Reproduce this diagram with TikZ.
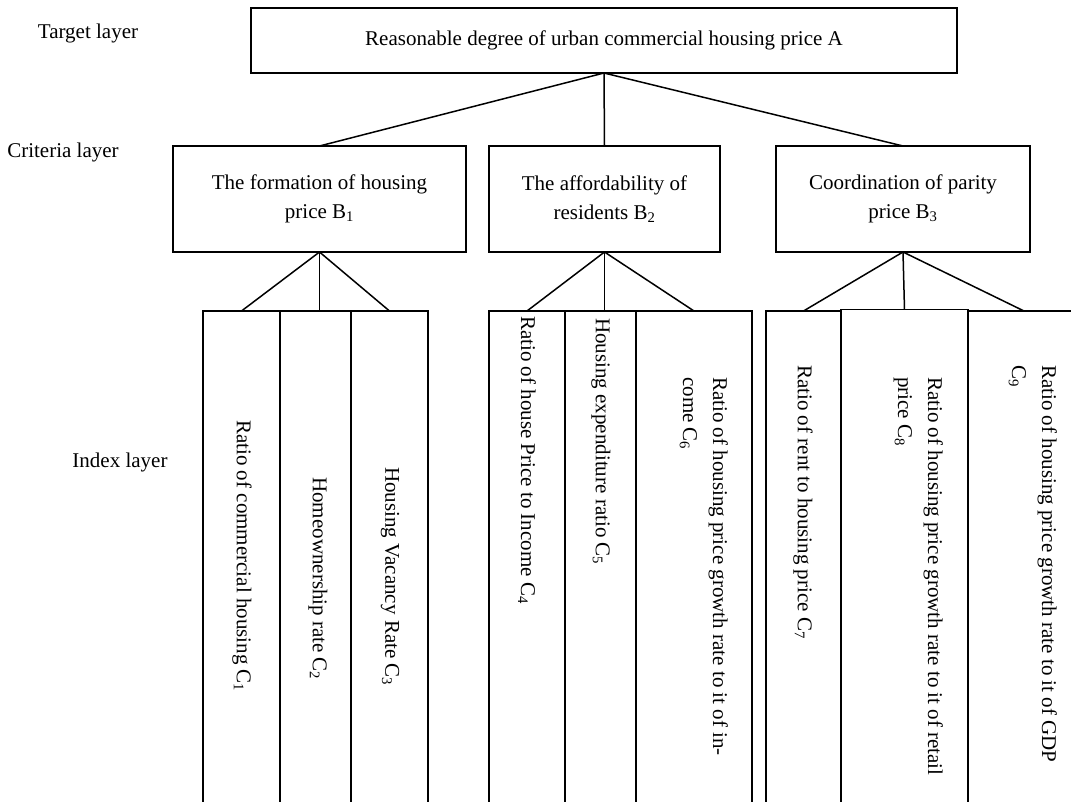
\documentclass[tikz,border=0pt]{standalone}
\usepackage{fontspec}
\setmainfont{Liberation Serif}
\begin{document}
\tikzset{
  box/.style={draw, line width=1.6pt, inner sep=0pt, outer sep=0pt},
  lbl/.style={font=\fontsize{21}{29}\selectfont, inner sep=0pt},
  vtxt/.style={font=\fontsize{21}{30}\selectfont, inner sep=0pt, rotate=-90},
  link/.style={line width=1.5pt},
}
\begin{tikzpicture}[x=1pt,y=-1pt]
\useasboundingbox (0,0) rectangle (1071,801);
\clip (0,0) rectangle (1071,801);

% layer labels
\node[lbl] (tl) at (88,33) {Target layer};
\node[lbl] (cl) at (63,152) {Criteria layer};
\node[lbl] (il) at (120,462) {Index layer};

% target
\node[box, lbl, minimum width=706, minimum height=65] (A) at (604,40.5)
  {Reasonable degree of urban commercial housing price A};

% criteria
\node[box, lbl, align=center, minimum width=293, minimum height=106] (B1) at (319.5,199)
  {The formation of housing\\price B\textsubscript{1}};
\node[box, lbl, align=center, minimum width=231, minimum height=106] (B2) at (604.5,199)
  {The affordability of\\residents B\textsubscript{2}};
\node[box, lbl, align=center, minimum width=254, minimum height=106] (B3) at (903,199)
  {Coordination of parity\\price B\textsubscript{3}};

% index boxes (open at the bottom edge of the picture)
\node[box, minimum width=77,  minimum height=519] (C1) at (241.5,570.5) {};
\node[box, minimum width=71,  minimum height=519] (C2) at (315.5,570.5) {};
\node[box, minimum width=77,  minimum height=519] (C3) at (389.5,570.5) {};
\node[box, minimum width=76,  minimum height=519] (C4) at (527,570.5) {};
\node[box, minimum width=71,  minimum height=519] (C5) at (600.5,570.5) {};
\node[box, minimum width=116, minimum height=519] (C6) at (694,570.5) {};
\node[box, minimum width=75,  minimum height=519] (C7) at (803.5,570.5) {};
\node[box, minimum width=127, minimum height=520.5] (C8) at (904.5,569.75) {};
\node[box, minimum width=112, minimum height=519] (C9) at (1024,570.5) {};

% index texts
\node[vtxt, anchor=west] (t1) at (242,420) {Ratio of commercial housing C\textsubscript{1}};
\node[vtxt, anchor=west] (t2) at (318,477) {Homeownership rate C\textsubscript{2}};
\node[vtxt, anchor=west] (t3) at (390,467) {Housing Vacancy Rate C\textsubscript{3}};
\node[vtxt, anchor=west] (t4) at (527,316) {Ratio of house Price to Income C\textsubscript{4}};
\node[vtxt, anchor=west] (t5) at (601,318) {Housing expenditure ratio C\textsubscript{5}};
\node[vtxt, anchor=north west, align=left] (t6) at (728,377)
  {Ratio of housing price growth rate to it of in-\\come C\textsubscript{6}};
\node[vtxt, anchor=west] (t7) at (803,365) {Ratio of rent to housing price C\textsubscript{7}};
\node[vtxt, anchor=north west, align=left] (t8) at (943,377)
  {Ratio of housing price growth rate to it of retail\\price C\textsubscript{8}};
\node[vtxt, anchor=north west, align=left] (t9) at (1057,365)
  {Ratio of housing price growth rate to it of GDP\\C\textsubscript{9}};

% connectors
\draw[link] (A.south) -- (B1.north);
\draw[link] (A.south) -- (B2.north);
\draw[link] (A.south) -- (B3.north);

\draw[link] (B1.south) -- (C1.north);
\draw[link] (B1.south) -- (B1.south |- C2.north);
\draw[link] (B1.south) -- (C3.north);

\draw[link] (B2.south) -- (C4.north);
\draw[link] (B2.south) -- (B2.south |- C5.north);
\draw[link] (B2.south) -- (C6.north);

\draw[link] (B3.south) -- (C7.north);
\draw[link] (B3.south) -- (C8.north);
\draw[link] (B3.south) -- (C9.north);
\end{tikzpicture}
\end{document}
